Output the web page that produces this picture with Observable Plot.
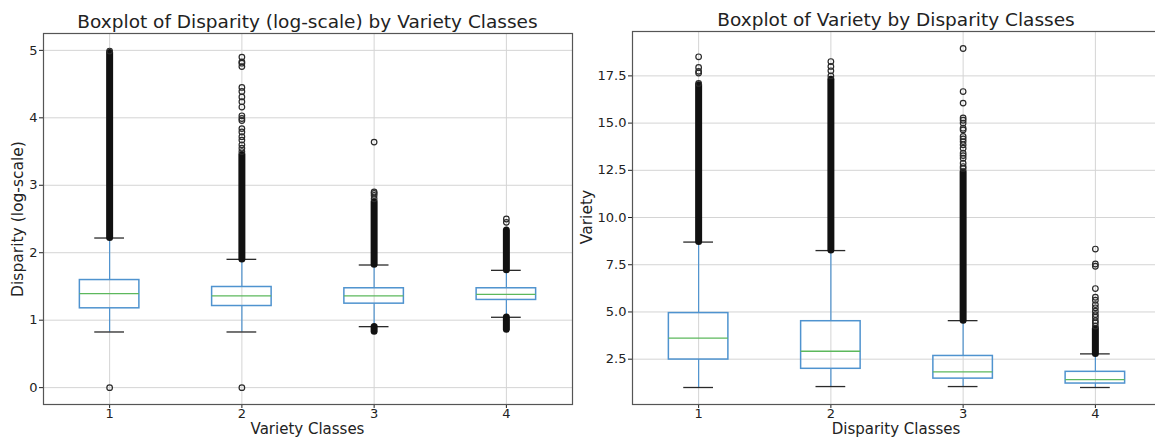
<!DOCTYPE html>
<html><head><meta charset="utf-8">
<script src="https://cdn.jsdelivr.net/npm/d3@7"></script>
<script src="https://cdn.jsdelivr.net/npm/@observablehq/plot@0.6"></script>
<style>
html,body{margin:0;padding:0;background:#fff;overflow:hidden;width:1155px;height:437px;}
#root{position:relative;width:1155px;height:437px;overflow:hidden;font-family:"DejaVu Sans",sans-serif;color:#222;}
.lbl{position:absolute;white-space:nowrap;transform:translate(-50%,-50%);line-height:1;}
.rot{transform:translate(-50%,-50%) rotate(-90deg);}
.chart{position:absolute;top:0;}
</style></head><body><div id="root"></div>
<script>
// ---- shared categories ----
const classes = [1, 2, 3, 4];

// ---- left chart: Disparity (log-scale) by Variety Classes ----
const leftTitle = "Boxplot of Disparity (log-scale) by Variety Classes";
const leftXLabel = "Variety Classes";
const leftYLabel = "Disparity (log-scale)";
const leftYTicks = [0, 1, 2, 3, 4, 5];
const leftWhiskerLo = [0.825, 0.825, 0.904, 1.043];
const leftQ1 = [1.176, 1.21, 1.245, 1.30];
const leftMedian = [1.393, 1.359, 1.359, 1.384];
const leftQ3 = [1.595, 1.492, 1.473, 1.473];
const leftWhiskerHi = [2.218, 1.902, 1.818, 1.739];
// dense runs of overlapping outliers: class, low, high
const leftDenseClass = [1, 2, 3, 3, 4, 4];
const leftDenseLo = [2.22, 1.90, 1.82, 0.83, 1.74, 0.86];
const leftDenseHi = [4.96, 3.45, 2.75, 0.90, 2.33, 1.04];
// sparse outliers per class
const leftOut1 = [4.99, 0];
const leftOut2 = [3.5, 3.55, 3.6, 3.67, 3.72, 3.79, 3.84, 3.96, 3.99, 4.03, 4.16, 4.24, 4.31, 4.39, 4.45, 4.76, 4.81, 4.83, 4.9, 0];
const leftOut3 = [2.8, 2.85, 2.88, 2.9, 3.64];
const leftOut4 = [2.45, 2.5];

// ---- right chart: Variety by Disparity Classes ----
const rightTitle = "Boxplot of Variety by Disparity Classes";
const rightXLabel = "Disparity Classes";
const rightYLabel = "Variety";
const rightYTicks = [2.5, 5.0, 7.5, 10.0, 12.5, 15.0, 17.5];
const rightWhiskerLo = [1.0, 1.05, 1.05, 1.0];
const rightQ1 = [2.48, 1.99, 1.47, 1.21];
const rightMedian = [3.61, 2.92, 1.83, 1.42];
const rightQ3 = [4.94, 4.51, 2.67, 1.83];
const rightWhiskerHi = [8.7, 8.25, 4.54, 2.78];
const rightDenseClass = [1, 2, 3, 4];
const rightDenseLo = [8.7, 8.25, 4.54, 2.78];
const rightDenseHi = [17.0, 17.3, 12.4, 4.1];
const rightOut1 = [17.1, 17.65, 17.74, 17.95, 18.51];
const rightOut2 = [17.5, 17.77, 18.0, 18.26];
const rightOut3 = [12.6, 12.7, 12.88, 13.14, 13.28, 13.41, 13.67, 13.85, 14.02, 14.16, 14.29, 14.64, 14.73, 15.0, 15.15, 15.27, 16.06, 16.67, 18.95];
const rightOut4 = [4.25, 4.42, 4.54, 4.72, 4.86, 5.04, 5.22, 5.39, 5.62, 5.78, 6.24, 7.42, 7.54, 8.33];

const BLUE = "#4f93cf", GREEN = "#5cb85c", DARK = "#2a2a2a", GRID = "#d4d4d4";
const HALF_BOX = 0.225, HALF_CAP = 0.1125;

function statsTable(lo, q1, med, q3, hi) {
  return classes.map((c, i) => ({c, lo: lo[i], q1: q1[i], med: med[i], q3: q3[i], hi: hi[i]}));
}
function denseTable(cls, lo, hi) {
  return cls.map((c, i) => ({c, lo: lo[i], hi: hi[i]}));
}
function outTable(lists) {
  return lists.flatMap((arr, i) => arr.map(v => ({c: classes[i], v})));
}

function makeChart({width, marginLeft, marginRight, marginTop, yDomain, yTicks, tickFormat, stats, dense, outs}) {
  return Plot.plot({
    width, height: 437,
    marginLeft, marginRight, marginTop, marginBottom: 33,
    style: {fontFamily: "DejaVu Sans", fontSize: "13px", color: "#222", background: "transparent", overflow: "visible"},
    x: {domain: [0.5, 4.5], ticks: classes, tickFormat: d => String(d), tickSize: 4, tickPadding: 0, label: null},
    y: {domain: yDomain, ticks: yTicks, tickFormat, tickSize: 4, tickPadding: 2, label: null},
    marks: [
      Plot.ruleX(classes, {stroke: GRID, strokeWidth: 1}),
      Plot.ruleY(yTicks, {stroke: GRID, strokeWidth: 1}),
      Plot.frame({stroke: "#555", strokeWidth: 1.2}),
      Plot.ruleX(stats, {x: "c", y1: "q3", y2: "hi", stroke: BLUE, strokeWidth: 1.2}),
      Plot.ruleX(stats, {x: "c", y1: "lo", y2: "q1", stroke: BLUE, strokeWidth: 1.2}),
      Plot.rect(stats, {x1: d => d.c - HALF_BOX, x2: d => d.c + HALF_BOX, y1: "q1", y2: "q3", fill: "none", stroke: BLUE, strokeWidth: 1.5}),
      Plot.ruleY(stats, {y: "med", x1: d => d.c - HALF_BOX, x2: d => d.c + HALF_BOX, stroke: GREEN, strokeWidth: 1.3}),
      Plot.ruleY(stats, {y: "hi", x1: d => d.c - HALF_CAP, x2: d => d.c + HALF_CAP, stroke: DARK, strokeWidth: 1.3}),
      Plot.ruleY(stats, {y: "lo", x1: d => d.c - HALF_CAP, x2: d => d.c + HALF_CAP, stroke: DARK, strokeWidth: 1.3}),
      Plot.ruleX(dense, {x: "c", y1: "lo", y2: "hi", stroke: "#111", strokeWidth: 7, strokeLinecap: "round"}),
      Plot.dot(outs, {x: "c", y: "v", r: 2.8, stroke: DARK, fill: "none", strokeWidth: 1.2})
    ]
  });
}

const root = document.getElementById("root");
function addLabel(text, x, y, size, rotate) {
  const d = document.createElement("div");
  d.className = "lbl" + (rotate ? " rot" : "");
  d.textContent = text;
  d.style.left = x + "px";
  d.style.top = y + "px";
  d.style.fontSize = size + "px";
  root.appendChild(d);
}

const left = makeChart({
  width: 580, marginLeft: 43, marginRight: 8, marginTop: 33,
  yDomain: [-0.25, 5.25], yTicks: leftYTicks, tickFormat: d => String(d),
  stats: statsTable(leftWhiskerLo, leftQ1, leftMedian, leftQ3, leftWhiskerHi),
  dense: denseTable(leftDenseClass, leftDenseLo, leftDenseHi),
  outs: outTable([leftOut1, leftOut2, leftOut3, leftOut4])
});
left.classList.add("chart");
left.style.left = "0px";
root.appendChild(left);

const right = makeChart({
  width: 590, marginLeft: 52, marginRight: 9, marginTop: 31,
  yDomain: [0.1, 19.85], yTicks: rightYTicks, tickFormat: d3.format(".1f"),
  stats: statsTable(rightWhiskerLo, rightQ1, rightMedian, rightQ3, rightWhiskerHi),
  dense: denseTable(rightDenseClass, rightDenseLo, rightDenseHi),
  outs: outTable([rightOut1, rightOut2, rightOut3, rightOut4])
});
right.classList.add("chart");
right.style.left = "580px";
root.appendChild(right);

addLabel(leftTitle, 307.5, 22, 18.5);
addLabel(rightTitle, 896, 19.5, 18.5);
addLabel(leftXLabel, 307.5, 428.5, 15);
addLabel(rightXLabel, 896, 428.5, 15);
addLabel(leftYLabel, 18.5, 219, 15.5, true);
addLabel(rightYLabel, 588, 217, 15.5, true);
</script></body></html>
